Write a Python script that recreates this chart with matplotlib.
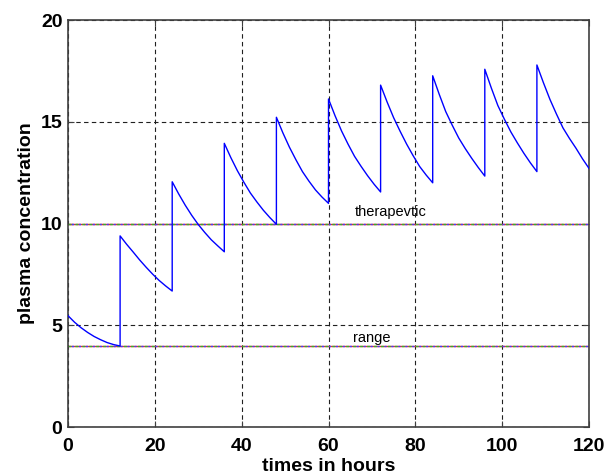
"""
Plasma concentration after repeated doses every 12 hours,
with the therapeutic range drawn as two horizontal lines.
"""
#%% Import libraries ###########################################################
import numpy as np
import matplotlib
matplotlib.use('Agg')
import matplotlib.pyplot as plt

#%% Data #######################################################################
dose_times = [0, 12, 24, 36, 48, 60, 72, 84, 96, 108]
hours_after_dose = [0, 1.5, 3, 4.5, 6, 7.5, 9, 10.5, 12]
conc_segments = [
    [5.47, 5.15, 4.88, 4.65, 4.45, 4.29, 4.15, 4.05, 3.98],
    [9.39, 8.98, 8.60, 8.21, 7.85, 7.51, 7.20, 6.93, 6.68],
    [12.05, 11.45, 10.90, 10.40, 9.95, 9.56, 9.20, 8.90, 8.61],
    [13.94, 13.24, 12.60, 12.03, 11.50, 11.06, 10.65, 10.29, 9.96],
    [15.22, 14.45, 13.75, 13.13, 12.55, 12.08, 11.65, 11.30, 10.99],
    [16.12, 15.30, 14.55, 13.90, 13.30, 12.81, 12.35, 11.93, 11.55],
    [16.80, 15.97, 15.20, 14.53, 13.90, 13.33, 12.80, 12.38, 12.00],
    [17.26, 16.35, 15.50, 14.83, 14.20, 13.68, 13.20, 12.75, 12.33],
    [17.58, 16.66, 15.80, 15.13, 14.50, 13.96, 13.45, 12.98, 12.55],
    [17.79, 16.92, 16.10, 15.38, 14.70, 14.18, 13.70, 13.18, 12.71],
]
range_low = 4
range_high = 10
x_ticks = [0, 20, 40, 60, 80, 100, 120]
y_ticks = [0, 5, 10, 15, 20]

#%% Main #######################################################################
def main():
    """
    Main function
    """
    t, c = build_series()
    plot_data(t, c, savepath='out.png')

#%% Build series ###############################################################
def build_series():
    """
    Joins the dose segments into one time / concentration array
    """
    t = np.concatenate([d + np.array(hours_after_dose) for d in dose_times])
    c = np.concatenate([np.array(seg) for seg in conc_segments])
    return t, c

#%% Plot #######################################################################
def plot_data(t, c, savepath=None):
    """
    Plots the concentration curve and the therapeutic range
    """
    plt.rcParams['font.family'] = ['Liberation Sans', 'DejaVu Sans']
    fig = plt.figure(figsize=(6.05, 4.76), dpi=100)
    ax = fig.add_axes([68/605, 49/476, 521/605, 407/476])

    # therapeutic range lines (multi coloured, like the original)
    for level in [range_low, range_high]:
        ax.plot([0, 120], [level, level], color='#e03030', lw=1.0, zorder=2)
        ax.plot([0, 120], [level, level], color='#30b030', lw=1.0,
                linestyle=(0, (2, 3)), zorder=2)
        ax.plot([0, 120], [level, level], color='#4040ff', lw=1.0,
                linestyle=(2.5, (1.5, 3.5)), zorder=2)

    ax.plot(t, c, color='#0000ff', lw=1.0, zorder=3)

    ax.text(66.1, 10.35, 'therapevtic', fontsize=10.5, ha='left', va='baseline')
    ax.text(65.6, 4.19, 'range', fontsize=10.5, ha='left', va='baseline')

    ax.set_xlim(0, 120)
    ax.set_ylim(0, 20)
    ax.set_xticks(x_ticks)
    ax.set_yticks(y_ticks)
    ax.tick_params(direction='in', length=4, width=0.8, labelsize=14,
                   top=True, right=True, color='#404040')
    ax.tick_params(axis='x', pad=8)
    ax.tick_params(axis='y', pad=4)
    for lab in ax.get_xticklabels() + ax.get_yticklabels():
        lab.set_fontweight('bold')
    ax.set_xlabel('times in hours', fontsize=14, fontweight='bold', labelpad=2)
    ax.set_ylabel('plasma concentration', fontsize=14, fontweight='bold', labelpad=4)

    ax.grid(color='#202020', linestyle=(0, (4, 3)), linewidth=0.8)
    for sp in ax.spines.values():
        sp.set_color('#404040')
        sp.set_linewidth(1.2)

    # Save plot
    fig.savefig(savepath, dpi=100)

#%% Run main ###################################################################
if __name__ == '__main__':
    main()
